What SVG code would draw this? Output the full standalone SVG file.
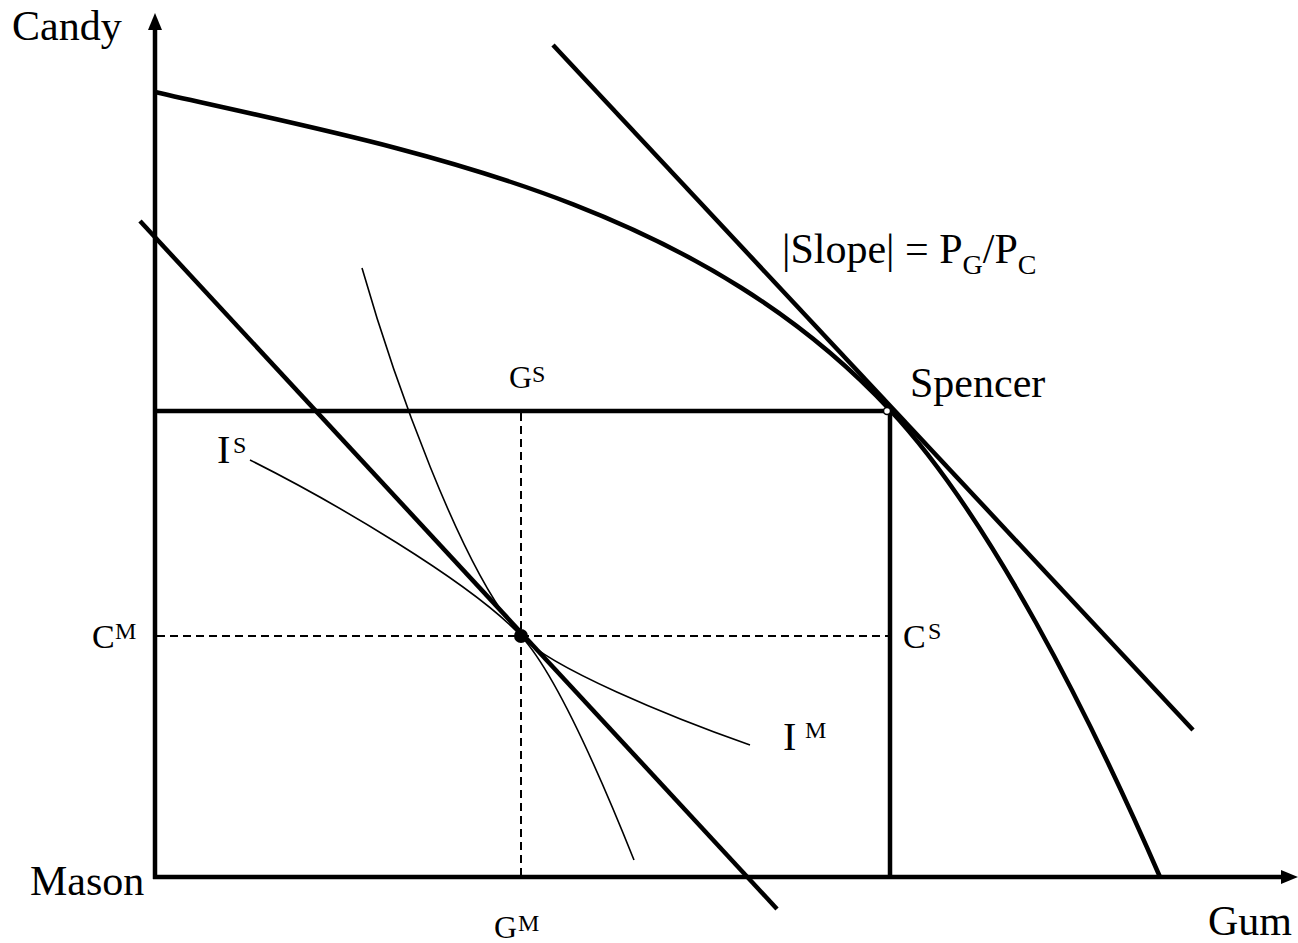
<svg xmlns="http://www.w3.org/2000/svg" width="1298" height="943" viewBox="0 0 1298 943">
<style>
.t{font-family:"Liberation Serif","Times New Roman",serif;fill:#000}
.thick{fill:none;stroke:#000;stroke-width:4.5}
.thin{fill:none;stroke:#000;stroke-width:1.6}
.dash{fill:none;stroke:#000;stroke-width:2;stroke-dasharray:8 5}
</style>
<rect width="1298" height="943" fill="#fff"/>
<g id="axes">
<line class="thick" x1="155" y1="879" x2="155" y2="26"/>
<polygon points="155,13 148,30 162,30" fill="#000"/>
<line class="thick" x1="153" y1="877" x2="1284" y2="877"/>
<polygon points="1298,877 1281,870 1281,884" fill="#000"/>
</g>
<g id="ppf">
<path class="thick" d="M155,92 C400,148 690,196 890,410 C990,517 1090,716 1160,877"/>
</g>
<g id="lines">
<line class="thick" x1="553" y1="45" x2="1193" y2="730"/>
<line class="thick" x1="140" y1="221" x2="777" y2="909"/>
<line class="thick" x1="155" y1="411" x2="890" y2="411"/>
<line class="thick" x1="890" y1="411" x2="890" y2="877"/>
<circle cx="887" cy="411" r="3.5" fill="#fff" stroke="#000" stroke-width="1.5"/>
<line class="dash" x1="521" y1="413" x2="521" y2="877"/>
<line class="dash" x1="157" y1="636" x2="888" y2="636"/>
</g>
<g id="indifference">
<path class="thin" d="M250,460 C330,500 471,582 521,636 C551,668 670,717 750,745"/>
<path class="thin" d="M362,268 C392,373 461,571 521,636 C556,674 604,785 634,860"/>
<circle cx="521" cy="636" r="7" fill="#000"/>
</g>
<g id="labels">
<text class="t" x="12" y="40" font-size="42">Candy</text>
<text class="t" x="30" y="895" font-size="42">Mason</text>
<text class="t" x="1208" y="935" font-size="42">Gum</text>
<text class="t" x="910" y="397" font-size="42">Spencer</text>
<text class="t" x="782" y="263" font-size="42">|Slope| = P<tspan font-size="28" dy="11">G</tspan><tspan dy="-11">/P</tspan><tspan font-size="28" dy="11">C</tspan></text>
<text class="t" x="509" y="388" font-size="32">G</text><text class="t" x="532" y="382" font-size="24">S</text>
<text class="t" x="217" y="463" font-size="40">I</text><text class="t" x="233" y="453" font-size="24">S</text>
<text class="t" x="92" y="648" font-size="34">C</text><text class="t" x="115" y="639" font-size="24">M</text>
<text class="t" x="903" y="648" font-size="34">C</text><text class="t" x="928" y="639" font-size="24">S</text>
<text class="t" x="783" y="750" font-size="40">I</text><text class="t" x="805" y="738" font-size="24">M</text>
<text class="t" x="494" y="938" font-size="32">G</text><text class="t" x="518" y="931" font-size="24">M</text>
</g>
</svg>
